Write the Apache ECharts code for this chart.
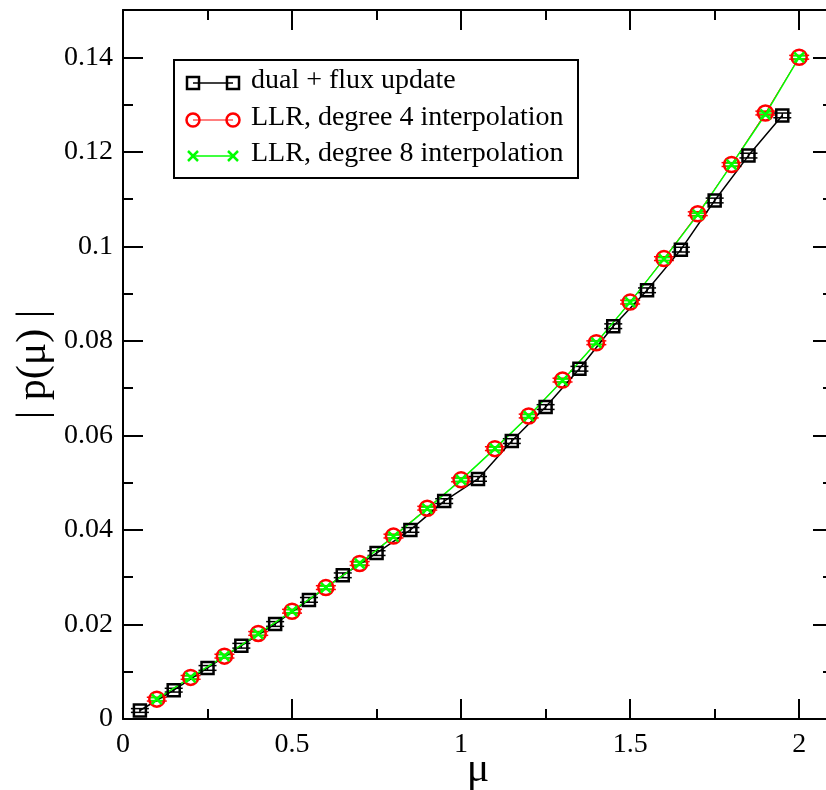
<!DOCTYPE html>
<html>
<head>
<meta charset="utf-8">
<script src="https://cdn.jsdelivr.net/npm/echarts@6/dist/echarts.min.js"></script>
<style>
  html, body { margin: 0; padding: 0; background: #fff; }
  #chart { width: 826px; height: 790px; }
</style>
</head>
<body>
<div id="chart"></div>
<script>
// dual + flux update
const muDual = [0.05, 0.15, 0.25, 0.35, 0.45, 0.55, 0.65, 0.75, 0.85, 0.95,
                1.05, 1.15, 1.25, 1.35, 1.45, 1.55, 1.65, 1.75, 1.85, 1.95]
const pDual = [0.0018, 0.0061, 0.0108, 0.0155, 0.0201, 0.0252, 0.0304, 0.0351, 0.0400, 0.0461,
               0.0508, 0.0588, 0.0660, 0.0741, 0.0831, 0.0907, 0.0993, 0.1097, 0.1192, 0.1277]
const errDual = [0.0004, 0.0004, 0.0005, 0.0005, 0.0005, 0.0005, 0.0005, 0.0005, 0.0005, 0.0005,
                 0.0005, 0.0005, 0.0005, 0.0005, 0.0005, 0.0005, 0.0005, 0.0005, 0.0005, 0.0005]

// LLR points
const muLLR = [0.1, 0.2, 0.3, 0.4, 0.5, 0.6, 0.7, 0.8, 0.9, 1.0,
               1.1, 1.2, 1.3, 1.4, 1.5, 1.6, 1.7, 1.8, 1.9, 2.0]
const pDeg4 = [0.0042, 0.0088, 0.0133, 0.0181, 0.0228, 0.0278, 0.0329, 0.0387, 0.0446, 0.0506,
               0.0572, 0.0641, 0.0717, 0.0796, 0.0882, 0.0974, 0.1069, 0.1173, 0.1282, 0.1400]
const errDeg4 = [0.0004, 0.0004, 0.0004, 0.0004, 0.0004, 0.0004, 0.0004, 0.0004, 0.0004, 0.0004,
                 0.0004, 0.0004, 0.0004, 0.0004, 0.0004, 0.0004, 0.0004, 0.0004, 0.0004, 0.0004]
const pDeg8 = [0.0042, 0.0088, 0.0133, 0.0180, 0.0228, 0.0278, 0.0329, 0.0386, 0.0445, 0.0506,
               0.0572, 0.0641, 0.0716, 0.0796, 0.0882, 0.0973, 0.1067, 0.1173, 0.1279, 0.1400]
const errDeg8 = [0.0003, 0.0003, 0.0003, 0.0003, 0.0003, 0.0003, 0.0003, 0.0003, 0.0003, 0.0003,
                 0.0003, 0.0003, 0.0003, 0.0003, 0.0003, 0.0003, 0.0003, 0.0003, 0.0003, 0.0003]

// ticks
const xMajor = [0, 0.5, 1, 1.5, 2]
const xMinor = [0.25, 0.75, 1.25, 1.75]
const yMajor = [0, 0.02, 0.04, 0.06, 0.08, 0.1, 0.12, 0.14]
const yMinor = [0.01, 0.03, 0.05, 0.07, 0.09, 0.11, 0.13]

const legendNames = ['dual + flux update', 'LLR, degree 4 interpolation', 'LLR, degree 8 interpolation']

const FONT = 'Liberation Serif'

const chart = echarts.init(document.getElementById('chart'))

function pairs(xs, ys) {
  return xs.map((x, i) => [x, ys[i]])
}
function triples(xs, ys, es) {
  return xs.map((x, i) => [x, ys[i], es[i]])
}

// one axis per side per tick set (major / minor), all sharing the same range
function makeAxis(dim, position, ticks, len, withLine, withLabel) {
  const isX = dim === 'x'
  return {
    type: 'value',
    position: position,
    min: 0,
    max: isX ? 2.1 : 0.15,
    splitLine: { show: false },
    axisLine: { show: withLine, onZero: false, lineStyle: { color: '#000', width: 2 } },
    axisTick: {
      show: true, inside: true, length: len, customValues: ticks,
      lineStyle: { color: '#000', width: 2 }
    },
    axisLabel: withLabel ? {
      show: true, customValues: ticks, color: '#000',
      fontFamily: FONT, fontSize: 28, margin: isX ? 12 : 10
    } : { show: false }
  }
}

const xAxes = [
  makeAxis('x', 'bottom', xMajor, 20, true, true),
  makeAxis('x', 'bottom', xMinor, 10, false, false),
  makeAxis('x', 'top', xMajor, 20, true, false),
  makeAxis('x', 'top', xMinor, 10, false, false)
]
Object.assign(xAxes[0], {
  name: 'μ', nameLocation: 'middle', nameGap: 30, nameMoveOverlap: false,
  nameTextStyle: { color: '#000', fontFamily: FONT, fontSize: 42 }
})

const yAxes = [
  makeAxis('y', 'left', yMajor, 20, true, true),
  makeAxis('y', 'left', yMinor, 10, false, false),
  makeAxis('y', 'right', yMajor, 20, true, false),
  makeAxis('y', 'right', yMinor, 10, false, false)
]
Object.assign(yAxes[0], {
  name: '| p(μ) |', nameLocation: 'middle', nameGap: 68, nameMoveOverlap: false,
  nameTextStyle: { color: '#000', fontFamily: FONT, fontSize: 42 }
})

function errorBars(color, halfWidth) {
  return function (params, api) {
    const x = api.value(0), y = api.value(1), e = api.value(2)
    const hi = api.coord([x, y + e])
    const lo = api.coord([x, y - e])
    const style = { stroke: color, lineWidth: 1.5 }
    return {
      type: 'group',
      children: [
        { type: 'line', shape: { x1: hi[0], y1: hi[1], x2: lo[0], y2: lo[1] }, style },
        { type: 'line', shape: { x1: hi[0] - halfWidth, y1: hi[1], x2: hi[0] + halfWidth, y2: hi[1] }, style },
        { type: 'line', shape: { x1: lo[0] - halfWidth, y1: lo[1], x2: lo[0] + halfWidth, y2: lo[1] }, style }
      ]
    }
  }
}

const CROSS = 'path://M0,0L10,10M10,0L0,10'

// legend drawn by hand: symbol - line - symbol, then text
const legendX = 174, legendY = 60, legendW = 404, legendH = 118
const rowY = [83, 120, 156]
const symL = 193, symR = 233, textX = 251
const legendColors = ['#000', '#ff0000', '#00ff00']
const legendLW = [1.5, 1, 1.5]

function legendSymbol(i, cx, cy) {
  const c = legendColors[i]
  if (i === 0) {
    return { type: 'rect', shape: { x: cx - 6, y: cy - 6, width: 12, height: 12 },
      style: { fill: 'none', stroke: c, lineWidth: 2.5 } }
  }
  if (i === 1) {
    return { type: 'circle', shape: { cx: cx, cy: cy, r: 6.5 },
      style: { fill: 'none', stroke: c, lineWidth: 2.5 } }
  }
  return { type: 'group', children: [
    { type: 'line', shape: { x1: cx - 5, y1: cy - 5, x2: cx + 5, y2: cy + 5 }, style: { stroke: c, lineWidth: 2.5 } },
    { type: 'line', shape: { x1: cx - 5, y1: cy + 5, x2: cx + 5, y2: cy - 5 }, style: { stroke: c, lineWidth: 2.5 } }
  ] }
}

const legendGraphics = [{
  type: 'rect', shape: { x: legendX, y: legendY, width: legendW, height: legendH },
  style: { fill: '#fff', stroke: '#000', lineWidth: 2 }
}]
legendNames.forEach((name, i) => {
  const y = rowY[i]
  legendGraphics.push({ type: 'line', shape: { x1: symL, y1: y, x2: symR, y2: y },
    style: { stroke: legendColors[i], lineWidth: legendLW[i] } })
  legendGraphics.push(legendSymbol(i, symL, y))
  legendGraphics.push(legendSymbol(i, symR, y))
  legendGraphics.push({ type: 'text', x: textX, y: y - 2,
    style: { text: name, fill: '#000', font: '28px "' + FONT + '"', verticalAlign: 'middle', align: 'left' } })
})

const option = {
  animation: false,
  backgroundColor: '#fff',
  grid: { left: 123, top: 10, width: 710, height: 709, outerBoundsMode: 'none', containLabel: false },
  xAxis: xAxes,
  yAxis: yAxes,
  graphic: [{ type: 'group', z: 100, children: legendGraphics }],
  series: [
    {
      type: 'custom', name: 'errDual', renderItem: errorBars('#000', 9),
      data: triples(muDual, pDual, errDual), encode: { x: 0, y: 1 }
    },
    {
      name: legendNames[0], type: 'line', data: pairs(muDual, pDual),
      symbol: 'rect', symbolSize: 12,
      lineStyle: { color: '#000', width: 1.5 },
      itemStyle: { color: 'rgba(0,0,0,0)', borderColor: '#000', borderWidth: 2.5 }
    },
    {
      type: 'custom', name: 'errDeg4', renderItem: errorBars('#ff0000', 10),
      data: triples(muLLR, pDeg4, errDeg4), encode: { x: 0, y: 1 }
    },
    {
      name: legendNames[1], type: 'line', data: pairs(muLLR, pDeg4),
      symbol: 'circle', symbolSize: 15,
      lineStyle: { color: '#ff0000', width: 1 },
      itemStyle: { color: 'rgba(0,0,0,0)', borderColor: '#ff0000', borderWidth: 2.5 }
    },
    {
      type: 'custom', name: 'errDeg8', renderItem: errorBars('#00ff00', 7),
      data: triples(muLLR, pDeg8, errDeg8), encode: { x: 0, y: 1 }
    },
    {
      name: legendNames[2], type: 'line', data: pairs(muLLR, pDeg8),
      symbol: CROSS, symbolSize: 10,
      lineStyle: { color: '#00ff00', width: 1.5 },
      itemStyle: { color: 'rgba(0,0,0,0)', borderColor: '#00ff00', borderWidth: 2.5 }
    }
  ]
}

chart.setOption(option)
</script>
</body>
</html>
